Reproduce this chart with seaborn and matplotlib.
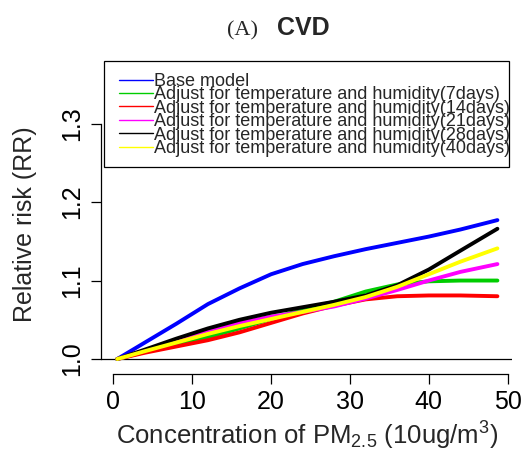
import matplotlib
matplotlib.use("Agg")
import matplotlib.pyplot as plt
import matplotlib.patches as mpatches
import pandas as pd
import seaborn as sns

# Data
conc = [0.5, 4, 8, 12, 16, 20, 24, 28, 32, 36, 40, 44, 48.7]

rr_base = [1.000, 1.021, 1.045, 1.070, 1.090, 1.108, 1.121, 1.131, 1.140, 1.148, 1.156, 1.165, 1.177]
rr_7d = [1.000, 1.009, 1.018, 1.028, 1.039, 1.051, 1.063, 1.073, 1.086, 1.095, 1.099, 1.100, 1.100]
rr_14d = [1.000, 1.008, 1.016, 1.024, 1.034, 1.046, 1.058, 1.068, 1.076, 1.080, 1.081, 1.081, 1.080]
rr_21d = [1.000, 1.011, 1.024, 1.036, 1.046, 1.054, 1.060, 1.067, 1.077, 1.088, 1.100, 1.111, 1.121]
rr_28d = [1.000, 1.012, 1.026, 1.039, 1.050, 1.059, 1.066, 1.073, 1.081, 1.094, 1.114, 1.138, 1.166]
rr_40d = [1.000, 1.010, 1.021, 1.032, 1.042, 1.051, 1.060, 1.069, 1.079, 1.092, 1.108, 1.124, 1.141]

labels = ["Base model",
          "Adjust for temperature and humidity(7days)",
          "Adjust for temperature and humidity(14days)",
          "Adjust for temperature and humidity(21days)",
          "Adjust for temperature and humidity(28days)",
          "Adjust for temperature and humidity(40days)"]
colors = ["#0000FF", "#00CD00", "#FF0000", "#FF00FF", "#000000", "#FFFF00"]

x_ticks = [0, 10, 20, 30, 40, 50]
y_ticks = [1.0, 1.1, 1.2, 1.3]

# long format for seaborn
series = [rr_base, rr_7d, rr_14d, rr_21d, rr_28d, rr_40d]
df = pd.concat([pd.DataFrame({"conc": conc, "rr": s, "model": lab})
                for s, lab in zip(series, labels)], ignore_index=True)

sns.set_style("white")
plt.rcParams["font.family"] = ["Liberation Sans", "DejaVu Sans"]
plt.rcParams["mathtext.fontset"] = "custom"
plt.rcParams["mathtext.rm"] = "Liberation Sans"
plt.rcParams["mathtext.it"] = "Liberation Sans:italic"

fig = plt.figure(figsize=(5.26, 4.54), dpi=100)
ax = fig.add_axes([101 / 526, 1 - 360.6 / 454, 411 / 526, 300.6 / 454])

sns.lineplot(data=df, x="conc", y="rr", hue="model", hue_order=labels,
             palette=dict(zip(labels, colors)), linewidth=2.8, ax=ax,
             sort=False, estimator=None)

ax.axhline(1.0, color="black", linewidth=0.9, zorder=0)

ax.set_xlim(-1.56, 50.55)
ax.set_ylim(0.998, 1.381)

# R-like axes
for s in ["top", "right"]:
    ax.spines[s].set_visible(False)
ax.spines["left"].set_bounds(1.0, 1.3)
ax.spines["bottom"].set_position(("outward", 9.4))
ax.spines["bottom"].set_bounds(0, 50)
for s in ["left", "bottom"]:
    ax.spines[s].set_linewidth(0.9)
    ax.spines[s].set_color("black")

ax.set_xticks(x_ticks)
ax.set_yticks(y_ticks)
ax.set_yticklabels([f"{v:.1f}" for v in y_ticks], rotation=90, va="center")
ax.tick_params(axis="both", direction="out", length=7, width=0.9,
               colors="black", labelsize=18, left=True, bottom=True)
ax.tick_params(axis="x", pad=5)
ax.tick_params(axis="y", pad=5)

ax.set_xlabel(r"Concentration of PM$_{2.5}$ (10ug/m$^{3}$)", fontsize=18.5)
ax.xaxis.set_label_coords(0.502, -0.197)
ax.set_ylabel("Relative risk (RR)", fontsize=18)
ax.yaxis.set_label_coords(-0.155, 0.455)

# legend with thin lines, box drawn separately so text can overflow like the original
handles, labs = ax.get_legend_handles_labels()
ax.get_legend().remove()
leg = fig.legend(handles, labs, loc="upper left",
                 bbox_to_anchor=(119 / 526, 1 - 73 / 454),
                 frameon=False, fontsize=13, borderpad=0, borderaxespad=0,
                 handlelength=1.9, handletextpad=0.05, labelspacing=-0.2)
for line in leg.get_lines():
    line.set_linewidth(1.0)
fig.patches.append(mpatches.Rectangle((104 / 526, 1 - 167 / 454), 405 / 526, 106 / 454,
                                      transform=fig.transFigure, fill=False,
                                      edgecolor="black", linewidth=0.9))

# title
fig.text(227 / 526, 1 - 35 / 454, "(A)", fontsize=16, family="Liberation Serif",
         ha="left", va="baseline")
fig.text(277 / 526, 1 - 35 / 454, "CVD", fontsize=18, fontweight="bold",
         ha="left", va="baseline")

fig.savefig("out.png", dpi=100)
